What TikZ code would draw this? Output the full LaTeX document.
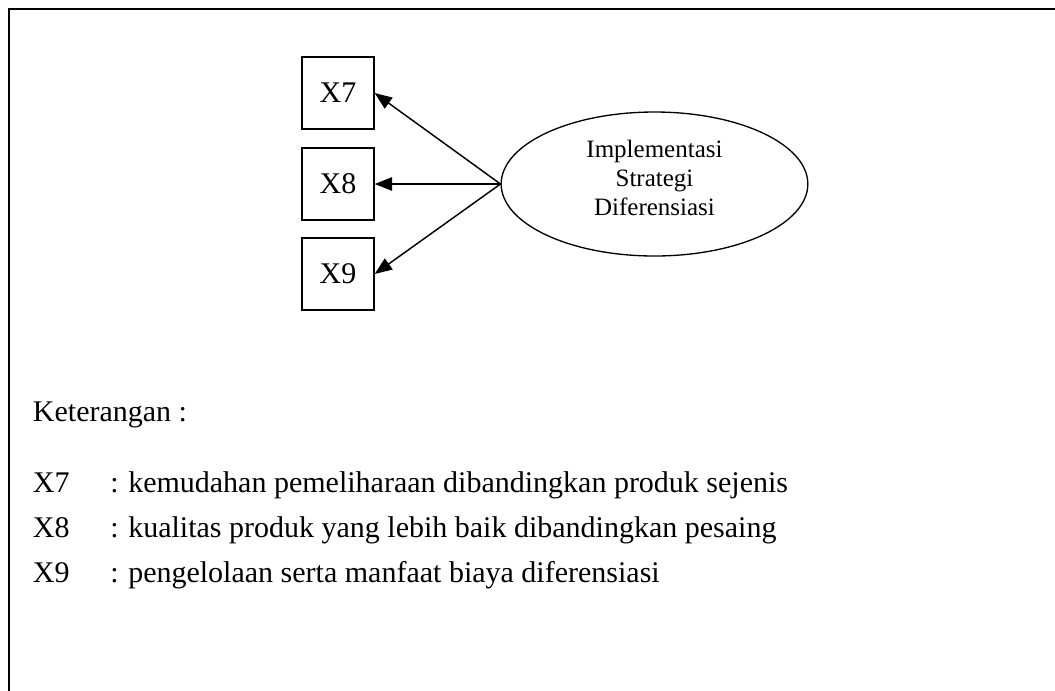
\documentclass[tikz,border=0pt]{standalone}
\usepackage{fontspec}
\setmainfont{Liberation Serif}
\usetikzlibrary{arrows.meta,shapes.geometric}
\tikzset{
  px/.style={x=0.75pt,y=-0.75pt},
  frameline/.style={line width=1.5pt,black},
  varbox/.style={draw,line width=1pt,minimum size=54pt,inner sep=0pt,
    font=\fontsize{22.5pt}{26pt}\selectfont},
  latent/.style={draw,ellipse,line width=1pt,minimum width=230pt,
    minimum height=108pt,inner sep=0pt},
  latenttext/.style={anchor=base,inner sep=0pt,
    font=\fontsize{18.75pt}{21.75pt}\selectfont},
  legend/.style={anchor=base west,inner sep=0pt,
    font=\fontsize{22.5pt}{26pt}\selectfont},
  loading/.style={line width=1.1pt,-{Triangle[length=13pt,width=10pt]}}
}
\begin{document}
\begin{tikzpicture}[px]
  \useasboundingbox (0,0) rectangle (1055,690);
  % outer frame, open on the right and at the bottom
  \draw[frameline] (8.5,692) -- (8.5,9) -- (1057,9);

  % indicator boxes
  \node[varbox] (x7) at (338,93)  {X7};
  \node[varbox] (x8) at (338,184) {X8};
  \node[varbox] (x9) at (338,274) {X9};

  % latent construct
  \node[latent] (isd) at (654.5,184) {};
  \node[latenttext] (t1) at (654.5,157) {Implementasi};
  \node[latenttext] (t2) at (654.5,186) {Strategi};
  \node[latenttext] (t3) at (654.5,215) {Diferensiasi};

  % loadings
  \draw[loading] (isd.west) -- (x7.east);
  \draw[loading] (isd.west) -- (x8.east);
  \draw[loading] (isd.west) -- (x9.east);

  % legend
  \node[legend] (ket) at (32.7,421) {Keterangan :};
  \node[legend] (l7) at (32.7,492) {X7};
  \node[legend] (c7) at (110,492) {:};
  \node[legend] (d7) at (128,492) {kemudahan pemeliharaan dibandingkan produk sejenis};
  \node[legend] (l8) at (32.7,537) {X8};
  \node[legend] (c8) at (110,537) {:};
  \node[legend] (d8) at (128,537) {kualitas produk yang lebih baik dibandingkan pesaing};
  \node[legend] (l9) at (32.7,582) {X9};
  \node[legend] (c9) at (110,582) {:};
  \node[legend] (d9) at (128,582) {pengelolaan serta manfaat biaya diferensiasi};
\end{tikzpicture}
\end{document}
